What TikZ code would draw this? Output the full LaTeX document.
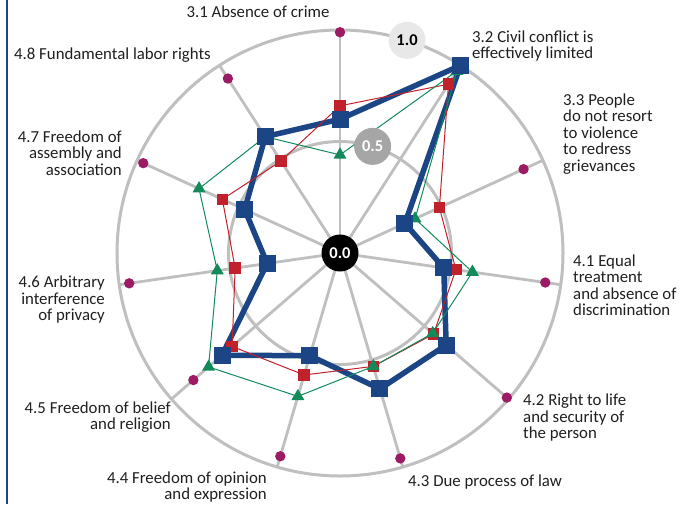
\documentclass[tikz,border=0pt]{standalone}
\usepackage{fontspec}
\setmainfont{Carlito}
\usetikzlibrary{calc,positioning,shapes.geometric}

\definecolor{wjpblue}{HTML}{1B4584}
\definecolor{wjpred}{HTML}{C1212A}
\definecolor{wjpgreen}{HTML}{138A5A}
\definecolor{wjppurple}{HTML}{9C1C63}
\definecolor{gridgray}{HTML}{BFBFBF}

\newcommand\lblfont{\fontsize{16.8}{16.5}\selectfont\lineskiplimit=-20pt\relax}

\begin{document}
\begin{tikzpicture}[x=1pt, y=1pt, font=\lblfont,
  lbl/.style={inner sep=0pt, text=black!88},
  bluemark/.style={rectangle, fill=wjpblue, minimum size=17pt, inner sep=0pt},
  redmark/.style={rectangle, fill=wjpred, minimum size=11.5pt, inner sep=0pt},
  greenmark/.style={regular polygon, regular polygon sides=3, fill=wjpgreen, minimum size=15pt, inner sep=0pt},
  valbadge/.style={circle, minimum size=37pt, inner sep=0pt, font=\fontsize{16.5}{18}\selectfont\bfseries}]
\useasboundingbox (-340,-251) rectangle (352,253);

% Frame line on the left
\draw[wjpblue, line width=2pt] (-333,-251) -- (-333,253);

% Grid: rings and spokes
\draw[gridgray, line width=3pt] (0,0) circle (223);
\draw[gridgray, line width=3pt] (0,0) circle (111.5);
\foreach \k in {0,...,10}
  \draw[gridgray, line width=2.8pt] (0,0) -- ({90-\k*360/11}:223);

% Purple dots
\foreach \v [count=\k from 0] in {0.99,0.98,0.905,0.93,0.99,0.96,0.95,0.87,0.955,0.97,0.93}
  \fill[wjppurple] ({90-\k*360/11}:{223*\v}) circle (5.2);

% Series points
\foreach \v [count=\k from 0] in {0.60,1.0,0.32,0.47,0.63,0.635,0.48,0.70,0.33,0.47,0.62}
  \coordinate (b\k) at ({90-\k*360/11}:{223*\v});
\foreach \v [count=\k from 0] in {0.66,0.90,0.49,0.525,0.555,0.53,0.57,0.64,0.475,0.58,0.49}
  \coordinate (r\k) at ({90-\k*360/11}:{223*\v});
\foreach \v [count=\k from 0] in {0.44,0.97,0.37,0.60,0.55,0.53,0.67,0.78,0.556,0.695,0.62}
  \coordinate (g\k) at ({90-\k*360/11}:{223*\v});

% Lines
\draw[wjpblue, line width=5.5pt, line join=round] (b0) \foreach \k in {1,...,10} {-- (b\k)} -- cycle;
\draw[wjpred, line width=1pt] (r0) \foreach \k in {1,...,10} {-- (r\k)} -- cycle;
\draw[wjpgreen, line width=1pt] (g0) \foreach \k in {1,...,10} {-- (g\k)} -- cycle;

% Markers
\foreach \k in {0,...,10} \node[redmark] at (r\k) {};
\foreach \k in {0,...,10} \node[greenmark] at (g\k) {};
\foreach \k in {0,...,10} \node[bluemark] at (b\k) {};

% Scale badges
\node[valbadge, fill=black, text=white] (zero) at (0,0) {0.0};
\node[valbadge, fill=black!35, text=white] (half) at (73:111.5) {0.5};
\node[valbadge, fill=black!9, text=black] (one) at (72.5:223) {1.0};

% Axis labels
\node[lbl] (l31) at (-82,241) {3.1 Absence of crime};
\node[lbl, anchor=west, align=left] (l32) at (132,207) {3.2 Civil conflict is\\effectively limited};
\node[lbl, anchor=west, align=left] (l33) at (223,119) {3.3 People\\do not resort\\to violence\\to redress\\grievances};
\node[lbl, anchor=west, align=left] (l41) at (233,-32) {4.1 Equal\\treatment\\and absence of\\discrimination};
\node[lbl, anchor=west, align=left] (l42) at (183,-165) {4.2 Right to life\\and security of\\the person};
\node[lbl, anchor=west] (l43) at (68,-229) {4.3 Due process of law};
\node[lbl, anchor=east, align=right] (l44) at (-73,-234) {4.4 Freedom of opinion\\and expression};
\node[lbl, anchor=east, align=right] (l45) at (-169,-164) {4.5 Freedom of belief\\and religion};
\node[lbl, anchor=east, align=right] (l46) at (-235,-47) {4.6 Arbitrary\\interference\\of privacy};
\node[lbl, anchor=east, align=right] (l47) at (-218,100) {4.7 Freedom of\\assembly and\\association};
\node[lbl, anchor=east] (l48) at (-129,198) {4.8 Fundamental labor rights};
\end{tikzpicture}
\end{document}
